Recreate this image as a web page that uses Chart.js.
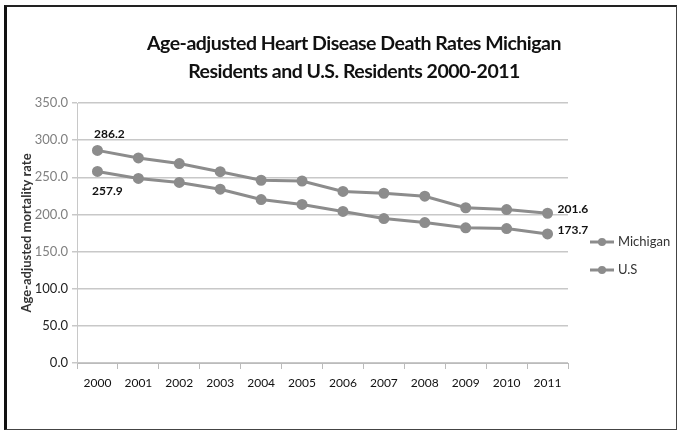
<!DOCTYPE html>
<html>
<head>
<meta charset="utf-8">
<script src="https://cdn.jsdelivr.net/npm/chart.js@4.4.1/dist/chart.umd.min.js"></script>
<style>
html, body { margin: 0; padding: 0; background: #fff; }
#wrap { position: relative; width: 679px; height: 435px; }
#frame { position: absolute; left: 4px; top: 5px; width: 673px; height: 425px;
         border: 1px solid #444; border-left: 3px solid #111; border-top: 2px solid #222; box-sizing: border-box; }
#title { position: absolute; left: 0; top: 29px; width: 708px; text-align: center;
         font: bold 19.5px Lato, sans-serif; line-height: 28px; color: #111; letter-spacing: -0.5px; }
canvas { position: absolute; left: 0; top: 0; }
</style>
</head>
<body>
<div id="wrap">
<div id="frame"></div>
<canvas id="chart" width="679" height="435"></canvas>
<div id="title">Age-adjusted Heart Disease Death Rates Michigan<br>Residents and U.S. Residents 2000-2011</div>
</div>
<script>
var years = ['2000', '2001', '2002', '2003', '2004', '2005', '2006', '2007', '2008', '2009', '2010', '2011'];
var michigan = [286.2, 276.0, 268.5, 257.5, 246.0, 245.0, 231.0, 228.5, 224.5, 209.0, 206.5, 201.6];
var usa = [257.9, 248.5, 243.0, 234.0, 220.0, 213.5, 204.0, 194.5, 189.0, 182.0, 181.0, 173.7];
var seriesNames = ['Michigan', 'U.S'];
var yTicks = [0, 50, 100, 150, 200, 250, 300, 350];

var lineGrey = '#8c8c8c';
var font = "Lato, 'DejaVu Sans', sans-serif";

// value labels on the first and last points, like the original
var pointLabels = [
	{ set: 0, idx: 0, where: 'above' },
	{ set: 1, idx: 0, where: 'below' },
	{ set: 0, idx: 11, where: 'right' },
	{ set: 1, idx: 11, where: 'right' }
];

var labelPlugin = {
	id: 'labelPlugin',
	afterDatasetsDraw: function(chart) {
		var ctx = chart.ctx;
		ctx.save();
		ctx.font = 'bold 12px ' + font;
		ctx.fillStyle = '#111';
		pointLabels.forEach(function(p) {
			var pt = chart.getDatasetMeta(p.set).data[p.idx];
			var v = chart.data.datasets[p.set].data[p.idx].toFixed(1);
			ctx.textBaseline = 'middle';
			if (p.where == 'above') {
				ctx.textAlign = 'center';
				ctx.fillText(v, pt.x + 12, pt.y - 16);
			} else if (p.where == 'below') {
				ctx.textAlign = 'center';
				ctx.fillText(v, pt.x + 10, pt.y + 20);
			} else {
				ctx.textAlign = 'left';
				ctx.fillText(v, pt.x + 10, pt.y - 4);
			}
		});
		ctx.restore();
	}
};

// legend drawn as line + dot markers to the right of the plot
var legendPlugin = {
	id: 'legendPlugin',
	afterDraw: function(chart) {
		var ctx = chart.ctx;
		var x = chart.chartArea.right + 22;
		var y = 242;
		ctx.save();
		chart.data.datasets.forEach(function(ds, i) {
			var yy = y + i * 28;
			ctx.strokeStyle = lineGrey;
			ctx.lineWidth = 3;
			ctx.beginPath(); ctx.moveTo(x, yy); ctx.lineTo(x + 24, yy); ctx.stroke();
			ctx.fillStyle = lineGrey;
			ctx.beginPath(); ctx.arc(x + 12, yy, 4, 0, Math.PI * 2); ctx.fill();
			ctx.fillStyle = '#333';
			ctx.font = '13px ' + font;
			ctx.textAlign = 'left'; ctx.textBaseline = 'middle';
			ctx.fillText(ds.label, x + 28, yy);
		});
		ctx.restore();
	}
};

var chart = new Chart(document.getElementById('chart').getContext('2d'), {
	type: 'line',
	data: {
		labels: years,
		datasets: [{
			label: seriesNames[0],
			data: michigan,
			borderColor: lineGrey,
			backgroundColor: lineGrey,
			borderWidth: 3,
			pointRadius: 4,
			tension: 0
		}, {
			label: seriesNames[1],
			data: usa,
			borderColor: lineGrey,
			backgroundColor: lineGrey,
			borderWidth: 3,
			pointRadius: 4,
			tension: 0
		}]
	},
	plugins: [labelPlugin, legendPlugin],
	options: {
		responsive: false,
		animation: false,
		layout: { padding: { left: 19, right: 111, top: 103, bottom: 0 } },
		plugins: {
			legend: { display: false },
			tooltip: { enabled: false },
			title: { display: false }
		},
		scales: {
			x: {
				offset: true,
				grid: { offset: true, drawOnChartArea: false, drawTicks: true, tickLength: 6, color: '#bbb' },
				border: { color: '#bbb' },
				ticks: { color: '#111', padding: 7, maxRotation: 0, font: { family: font, size: 12 } },
				afterFit: function(scale) { scale.height = 72; }
			},
			y: {
				min: 0,
				max: 350,
				afterBuildTicks: function(scale) {
					scale.ticks = yTicks.map(function(v) { return { value: v }; });
				},
				grid: { color: '#c8c8c8', lineWidth: 1.5, tickLength: 5 },
				border: { color: '#c8c8c8' },
				ticks: {
					// the upper labels are printed lighter than the lower ones
					color: function(c) { return c.tick && c.tick.value > 100 ? '#808080' : '#222'; },
					padding: 4,
					font: { family: font, size: 13 },
					callback: function(v) { return Number(v).toFixed(1); }
				},
				title: {
					display: true,
					text: 'Age-adjusted mortality rate',
					color: '#333',
					font: { family: font, size: 13, weight: 'bold' },
					padding: { top: 0, bottom: 4 }
				},
				afterFit: function(scale) { scale.width = 58; }
			}
		}
	}
});
</script>
</body>
</html>
